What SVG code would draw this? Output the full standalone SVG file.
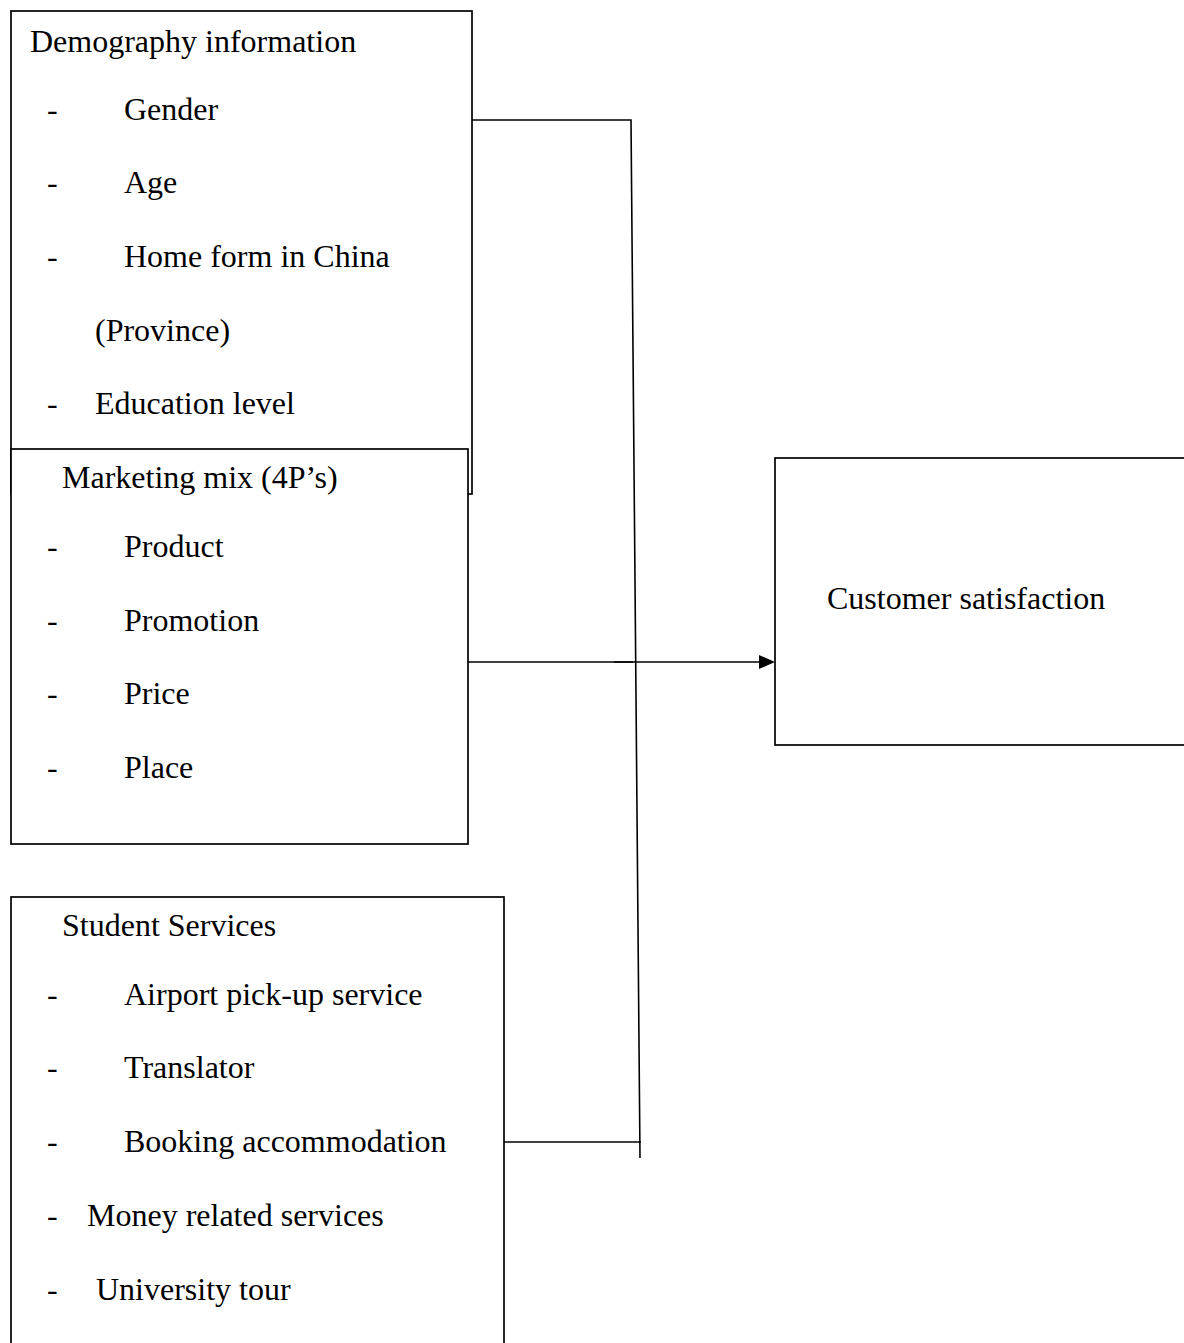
<svg xmlns="http://www.w3.org/2000/svg" width="1184" height="1343" viewBox="0 0 1184 1343">
<style>
  text { font-family: "Liberation Serif", "Times New Roman", serif; font-size: 32px; fill: #000; }
  .box { fill: #fff; stroke: #000; stroke-width: 1.7; }
  .conn { stroke: #000; stroke-width: 1.6; fill: none; }
</style>
<rect width="1184" height="1343" fill="#fff"/>
<g id="demography">
  <rect class="box" x="11" y="11" width="461" height="483"/>
  <text x="30" y="52">Demography information</text>
  <text x="47" y="120">-</text><text x="124" y="120">Gender</text>
  <text x="47" y="193">-</text><text x="124" y="193">Age</text>
  <text x="47" y="267">-</text><text x="124" y="267">Home form in China</text>
  <text x="95" y="341">(Province)</text>
  <text x="47" y="414">-</text><text x="95" y="414">Education level</text>
</g>
<g id="marketing">
  <rect class="box" x="11" y="449" width="457" height="395"/>
  <text x="62" y="488">Marketing mix (4P’s)</text>
  <text x="47" y="557">-</text><text x="124" y="557">Product</text>
  <text x="47" y="631">-</text><text x="124" y="631">Promotion</text>
  <text x="47" y="704">-</text><text x="124" y="704">Price</text>
  <text x="47" y="778">-</text><text x="124" y="778">Place</text>
</g>
<g id="services">
  <rect class="box" x="11" y="897" width="493" height="480"/>
  <text x="62" y="936">Student Services</text>
  <text x="47" y="1005">-</text><text x="124" y="1005">Airport pick-up service</text>
  <text x="47" y="1078">-</text><text x="124" y="1078">Translator</text>
  <text x="47" y="1152">-</text><text x="124" y="1152">Booking accommodation</text>
  <text x="47" y="1226">-</text><text x="87" y="1226">Money related services</text>
  <text x="47" y="1300">-</text><text x="96" y="1300">University tour</text>
</g>
<g id="satisfaction">
  <rect class="box" x="775" y="458" width="430" height="287"/>
  <text x="827" y="609">Customer satisfaction</text>
</g>
<g id="connectors">
  <polyline class="conn" points="472,120 631,120 640,1158"/>
  <line class="conn" x1="504" y1="1142" x2="641" y2="1142"/>
  <line class="conn" x1="468" y1="662" x2="633" y2="662"/>
  <line class="conn" x1="614" y1="662" x2="762" y2="662" stroke-width="2.4"/>
  <polygon points="759,655 775,662 759,669" fill="#000"/>
</g>
</svg>
